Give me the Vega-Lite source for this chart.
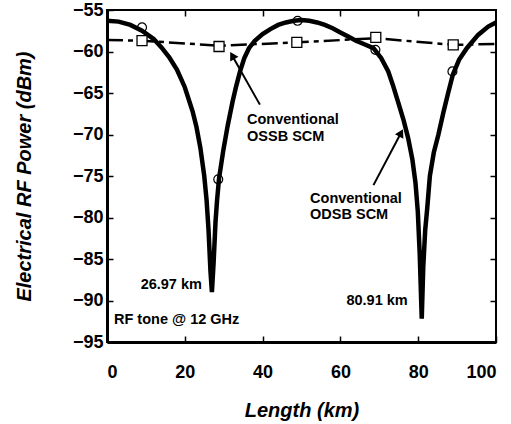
{
  "$schema": "https://vega.github.io/schema/vega-lite/v6.json",
  "width": 389,
  "height": 332,
  "autosize": {"type": "none"},
  "padding": {"left": 107, "top": 10, "right": 15, "bottom": 82},
  "config": {"font": "Liberation Sans", "view": {"stroke": "black", "strokeWidth": 2}},
  "datasets": {
    "odsb": [
      {"L": 0, "P": -56.3}, {"L": 3, "P": -56.4}, {"L": 6, "P": -56.8}, {"L": 9, "P": -57.5},
      {"L": 12, "P": -58.5}, {"L": 14, "P": -59.5}, {"L": 16, "P": -60.7}, {"L": 18, "P": -62.2},
      {"L": 20, "P": -64.3}, {"L": 22, "P": -67.2}, {"L": 23, "P": -69.1}, {"L": 24, "P": -71.6},
      {"L": 25, "P": -75.0}, {"L": 25.6, "P": -77.9}, {"L": 26.1, "P": -81.5}, {"L": 26.6, "P": -86.5},
      {"L": 26.97, "P": -89.0}, {"L": 27.4, "P": -85.5}, {"L": 27.9, "P": -80.5}, {"L": 28.3, "P": -77.9},
      {"L": 28.8, "P": -75.3}, {"L": 29.9, "P": -71.9}, {"L": 31.0, "P": -69.0}, {"L": 32.3, "P": -66.0},
      {"L": 33.2, "P": -64.2}, {"L": 34.2, "P": -62.4}, {"L": 35.3, "P": -60.8}, {"L": 36.5, "P": -59.6},
      {"L": 38.0, "P": -58.7}, {"L": 40, "P": -57.9}, {"L": 42, "P": -57.3}, {"L": 44, "P": -56.8},
      {"L": 46, "P": -56.5}, {"L": 48, "P": -56.3}, {"L": 50, "P": -56.2}, {"L": 52, "P": -56.3},
      {"L": 54, "P": -56.5}, {"L": 56, "P": -56.8}, {"L": 58, "P": -57.2}, {"L": 60, "P": -57.7},
      {"L": 62, "P": -58.2}, {"L": 64, "P": -58.7}, {"L": 66, "P": -59.1}, {"L": 68.5, "P": -59.6},
      {"L": 70.5, "P": -60.8}, {"L": 72.3, "P": -62.4}, {"L": 73.6, "P": -64.2}, {"L": 74.9, "P": -66.2},
      {"L": 76.2, "P": -68.2}, {"L": 77.4, "P": -70.4}, {"L": 78.5, "P": -73.0}, {"L": 79.3, "P": -75.8},
      {"L": 79.9, "P": -79.3}, {"L": 80.4, "P": -84.5}, {"L": 80.91, "P": -92.2}, {"L": 81.3, "P": -86.0},
      {"L": 81.8, "P": -81.5}, {"L": 82.3, "P": -79.0}, {"L": 83.0, "P": -75.0}, {"L": 84.0, "P": -72.2},
      {"L": 85.2, "P": -70.0}, {"L": 86.5, "P": -67.3}, {"L": 87.7, "P": -65.0}, {"L": 88.9, "P": -62.8},
      {"L": 90.5, "P": -61.0}, {"L": 92.5, "P": -59.6}, {"L": 95.4, "P": -58.0}, {"L": 98, "P": -57.0},
      {"L": 100, "P": -56.5}
    ],
    "ossb": [
      {"L": 0, "P": -58.6}, {"L": 9, "P": -58.7}, {"L": 29, "P": -59.3}, {"L": 49, "P": -58.9},
      {"L": 69, "P": -58.4}, {"L": 89, "P": -59.2}, {"L": 100, "P": -59.1}
    ],
    "circles": [
      {"L": 9, "P": -57.1}, {"L": 28.6, "P": -75.4}, {"L": 49, "P": -56.3}, {"L": 69, "P": -59.8}, {"L": 88.8, "P": -62.4}
    ],
    "squares": [
      {"L": 9, "P": -58.7}, {"L": 28.8, "P": -59.4}, {"L": 48.8, "P": -58.9}, {"L": 69.1, "P": -58.3}, {"L": 89, "P": -59.2}
    ],
    "labelsLeft": [
      {"L": 36.0, "P": -68.25, "text": "Conventional"},
      {"L": 36.0, "P": -70.3, "text": "OSSB SCM"},
      {"L": 52.2, "P": -77.8, "text": "Conventional"},
      {"L": 52.2, "P": -79.7, "text": "ODSB SCM"},
      {"L": 1.8, "P": -92.3, "text": "RF tone @ 12 GHz"}
    ],
    "labelsRight": [
      {"L": 24.4, "P": -88.1, "text": "26.97 km"},
      {"L": 77.3, "P": -90.1, "text": "80.91 km"}
    ],
    "arrows": [
      {"L": 39.3, "P": -66.4, "L2": 32.2, "P2": -60.5, "ang": 330},
      {"L": 68.5, "P": -76.1, "L2": 75.6, "P2": -69.8, "ang": 28}
    ]
  },
  "layer": [
    {
      "data": {"name": "odsb"},
      "mark": {"type": "line", "color": "black", "strokeWidth": 4.5},
      "encoding": {
        "x": {"field": "L", "type": "quantitative", "scale": {"domain": [0, 100], "nice": false},
          "axis": {"orient": "bottom", "values": [0, 20, 40, 60, 80, 100], "tickSize": -6, "tickColor": "black", "tickWidth": 1.5,
            "domainColor": "black", "domainWidth": 3, "grid": false,
            "labelFontWeight": "bold", "labelFontSize": 18, "labelColor": "black", "labelPadding": 27,
            "title": "Length (km)", "titleFontStyle": "italic", "titleFontWeight": "bold", "titleFontSize": 20, "titleColor": "black", "titlePadding": 19}},
        "y": {"field": "P", "type": "quantitative", "scale": {"domain": [-95, -55], "nice": false},
          "axis": {"orient": "left", "values": [-95, -90, -85, -80, -75, -70, -65, -60, -55], "tickSize": -6, "tickColor": "black", "tickWidth": 1.5,
            "domainColor": "black", "domainWidth": 3, "grid": false,
            "labelFontWeight": "bold", "labelFontSize": 18, "labelColor": "black", "labelPadding": 10,
            "title": "Electrical RF Power (dBm)", "titleFontStyle": "italic", "titleFontWeight": "bold", "titleFontSize": 20, "titleColor": "black", "titlePadding": 38}}
      }
    },
    {
      "data": {"name": "ossb"},
      "mark": {"type": "line", "color": "black", "strokeWidth": 2.5, "strokeDash": [16, 5, 5, 5]},
      "encoding": {
        "x": {"field": "L", "type": "quantitative", "scale": {"domain": [0, 100], "nice": false},
          "axis": {"orient": "top", "values": [20, 40, 60, 80], "tickSize": -6, "tickColor": "black", "tickWidth": 1.5, "labels": false, "title": null, "domain": false, "grid": false}},
        "y": {"field": "P", "type": "quantitative", "scale": {"domain": [-95, -55], "nice": false},
          "axis": {"orient": "right", "values": [-90, -85, -80, -75, -70, -65, -60], "tickSize": -6, "tickColor": "black", "tickWidth": 1.5, "labels": false, "title": null, "domain": false, "grid": false}}
      }
    },
    {
      "data": {"name": "circles"},
      "mark": {"type": "point", "shape": "circle", "filled": false, "stroke": "black", "strokeWidth": 1.2, "size": 80, "opacity": 1},
      "encoding": {
        "x": {"field": "L", "type": "quantitative", "axis": null},
        "y": {"field": "P", "type": "quantitative", "axis": null}
      }
    },
    {
      "data": {"name": "squares"},
      "mark": {"type": "point", "shape": "square", "filled": true, "fill": "white", "stroke": "black", "strokeWidth": 1.3, "size": 100, "opacity": 1},
      "encoding": {
        "x": {"field": "L", "type": "quantitative", "axis": null},
        "y": {"field": "P", "type": "quantitative", "axis": null}
      }
    },
    {
      "data": {"name": "arrows"},
      "mark": {"type": "rule", "color": "black", "strokeWidth": 2},
      "encoding": {
        "x": {"field": "L", "type": "quantitative", "axis": null},
        "y": {"field": "P", "type": "quantitative", "axis": null},
        "x2": {"field": "L2"},
        "y2": {"field": "P2"}
      }
    },
    {
      "data": {"name": "arrows"},
      "mark": {"type": "point", "shape": "triangle-up", "filled": true, "color": "black", "size": 90, "opacity": 1},
      "encoding": {
        "x": {"field": "L2", "type": "quantitative", "axis": null},
        "y": {"field": "P2", "type": "quantitative", "axis": null},
        "angle": {"field": "ang", "type": "quantitative", "scale": null}
      }
    },
    {
      "data": {"name": "labelsLeft"},
      "mark": {"type": "text", "align": "left", "baseline": "middle", "fontWeight": "bold", "fontSize": 14.5, "color": "black"},
      "encoding": {
        "x": {"field": "L", "type": "quantitative", "axis": null},
        "y": {"field": "P", "type": "quantitative", "axis": null},
        "text": {"field": "text"}
      }
    },
    {
      "data": {"name": "labelsRight"},
      "mark": {"type": "text", "align": "right", "baseline": "middle", "fontWeight": "bold", "fontSize": 14.5, "color": "black"},
      "encoding": {
        "x": {"field": "L", "type": "quantitative", "axis": null},
        "y": {"field": "P", "type": "quantitative", "axis": null},
        "text": {"field": "text"}
      }
    }
  ],
  "resolve": {"axis": {"x": "independent", "y": "independent"}}
}
